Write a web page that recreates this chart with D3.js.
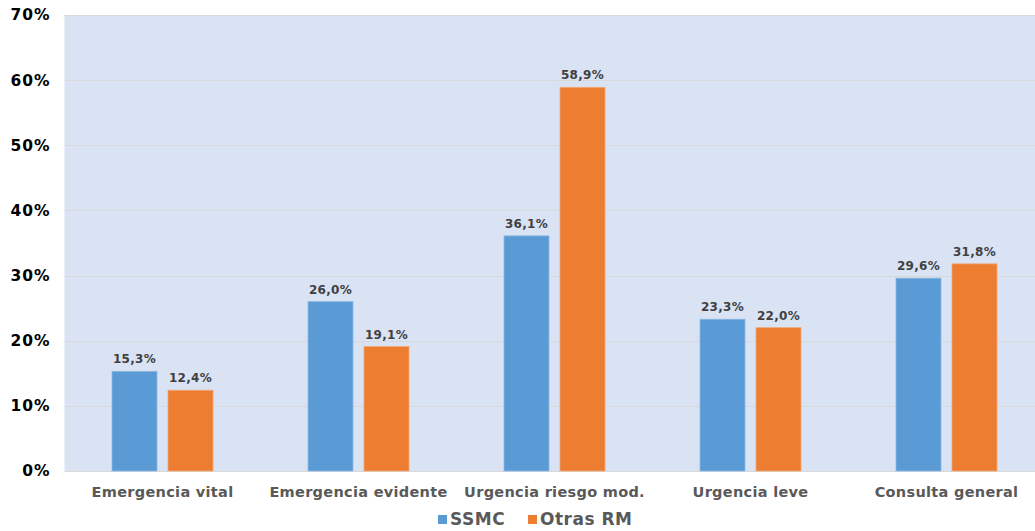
<!DOCTYPE html>
<html>
<head>
<meta charset="utf-8">
<script src="https://cdn.jsdelivr.net/npm/d3@7"></script>
<style>
  html, body { margin: 0; padding: 0; background: #ffffff; }
  svg { display: block; }
</style>
</head>
<body>
<svg id="chart" width="1035" height="531"></svg>
<script>
// Categories and series (percentages)
const categories = ["Emergencia vital", "Emergencia evidente", "Urgencia riesgo mod.", "Urgencia leve", "Consulta general"];
const seriesNames = ["SSMC", "Otras RM"];
const ssmcValues = [15.3, 26.0, 36.1, 23.3, 29.6];
const otrasValues = [12.4, 19.1, 58.9, 22.0, 31.8];
const yTicks = [0, 10, 20, 30, 40, 50, 60, 70];
const colors = ["#5B9BD5", "#ED7D31"];

const fontFamily = "'DejaVu Sans', Verdana, sans-serif";
const svg = d3.select("#chart");

const plot = { left: 64.5, top: 15, width: 980, height: 456 };

const x0 = d3.scaleBand().domain(categories).range([plot.left, plot.left + plot.width]).paddingInner(0).paddingOuter(0);
const y = d3.scaleLinear().domain([0, 70]).range([plot.top + plot.height, plot.top]);

const fmt = v => v.toFixed(1).replace(".", ",") + "%";

// Plot background
svg.append("rect")
  .attr("x", plot.left).attr("y", plot.top)
  .attr("width", plot.width).attr("height", plot.height)
  .attr("fill", "#DAE3F3");

// Gridlines
svg.append("g").selectAll("line").data(yTicks.filter(t => t > 0)).join("line")
  .attr("x1", plot.left).attr("x2", plot.left + plot.width)
  .attr("y1", d => Math.round(y(d)) + 0.5).attr("y2", d => Math.round(y(d)) + 0.5)
  .attr("stroke", "#D9D9D9").attr("stroke-width", 1);

// Baseline
svg.append("line")
  .attr("x1", plot.left).attr("x2", plot.left + plot.width)
  .attr("y1", Math.round(y(0)) + 0.5).attr("y2", Math.round(y(0)) + 0.5)
  .attr("stroke", "#D9D9D9").attr("stroke-width", 1);

// Y axis labels
const yAxis = d3.axisLeft(y).tickValues(yTicks).tickFormat(d => d + "%").tickSize(0).tickPadding(0);
const yg = svg.append("g").attr("transform", `translate(${plot.left - 14},0)`).call(yAxis);
yg.select(".domain").remove();
yg.selectAll("text")
  .attr("font-family", fontFamily).attr("font-size", "15.5px").attr("font-weight", "bold")
  .attr("letter-spacing", "1px")
  .attr("fill", "#000000");

// Grouped bars
const barW = 45, gap = 11;
const series = [ssmcValues, otrasValues];
const barData = [];
categories.forEach((c, i) => {
  series.forEach((vals, s) => {
    barData.push({ cat: c, s, v: vals[i] });
  });
});
const cx = c => x0(c) + x0.bandwidth() / 2;
const barX = d => d.s === 0 ? cx(d.cat) - gap / 2 - barW : cx(d.cat) + gap / 2;

svg.append("g").selectAll("rect").data(barData).join("rect")
  .attr("x", barX)
  .attr("y", d => y(d.v))
  .attr("width", barW)
  .attr("height", d => y(0) - y(d.v))
  .attr("fill", d => colors[d.s])
  .attr("stroke", d => d.s === 0 ? "#8DB9E3" : "#F3A877")
  .attr("stroke-width", 0.8);

// Value labels
svg.append("g").selectAll("text").data(barData).join("text")
  .attr("x", d => barX(d) + barW / 2)
  .attr("y", d => y(d.v) - 8)
  .attr("text-anchor", "middle")
  .attr("font-family", fontFamily).attr("font-size", "12px").attr("font-weight", "bold")
  .attr("letter-spacing", "0.3px")
  .attr("fill", "#404040")
  .text(d => fmt(d.v));

// Category labels
const xAxis = d3.axisBottom(x0).tickSize(0).tickPadding(0);
const xg = svg.append("g").attr("transform", `translate(0,${y(0) + 26})`).call(xAxis);
xg.select(".domain").remove();
xg.selectAll("text")
  .attr("dy", 0)
  .attr("font-family", fontFamily).attr("font-size", "14.5px").attr("font-weight", "bold")
  .attr("letter-spacing", "0.3px")
  .attr("fill", "#595959");

// Legend
const legend = svg.append("g").attr("transform", "translate(438,525)");
const legendItems = [{ name: seriesNames[0], x: 0 }, { name: seriesNames[1], x: 90 }];
legendItems.forEach((it, i) => {
  legend.append("rect").attr("x", it.x).attr("y", -10).attr("width", 9).attr("height", 9).attr("fill", colors[i]);
  legend.append("text").attr("x", it.x + 12).attr("y", 0)
    .attr("font-family", fontFamily).attr("font-size", "17px").attr("font-weight", "bold")
    .attr("letter-spacing", "0.5px")
    .attr("fill", "#595959").text(it.name);
});
</script>
</body>
</html>
